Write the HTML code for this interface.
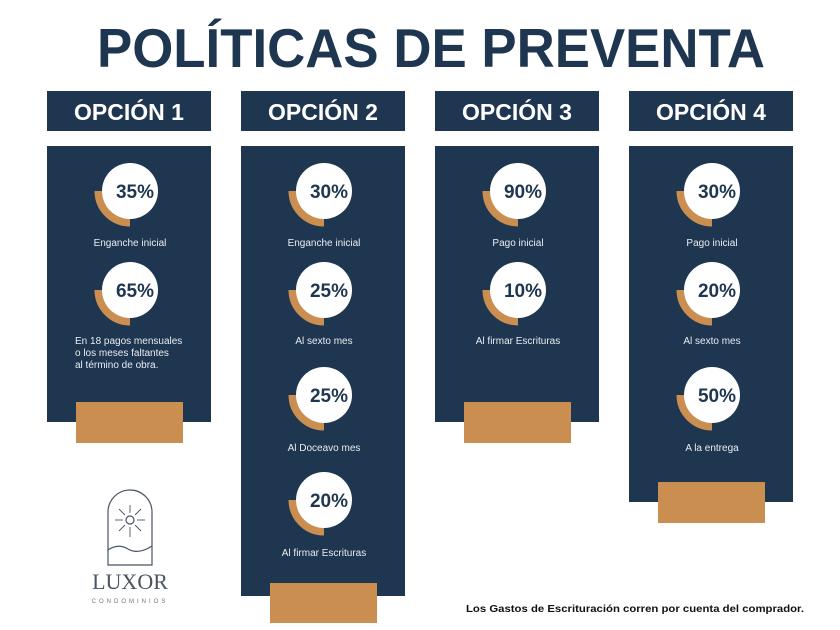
<!DOCTYPE html>
<html><head><meta charset="utf-8"><style>
html,body{margin:0;padding:0;background:#fff;}
svg{display:block}
</style></head><body>
<svg width="840" height="630" viewBox="0 0 840 630" xmlns="http://www.w3.org/2000/svg" font-family="Liberation Sans, sans-serif">
<defs>
<g id="c">
<path d="M -31 0 A 31 31 0 0 0 0 31" fill="none" stroke="#c98e50" stroke-width="9"/>
<circle cx="0" cy="0" r="28" fill="#fff"/>
</g>
</defs>
<rect width="840" height="630" fill="#fff"/>
<text x="431" y="67" text-anchor="middle" font-size="55" font-weight="bold" fill="#1f3650" textLength="668" lengthAdjust="spacingAndGlyphs">POLÍTICAS DE PREVENTA</text>

<g fill="#1f3650">
<rect x="47" y="91" width="164" height="40"/>
<rect x="241" y="91" width="164" height="40"/>
<rect x="435" y="91" width="164" height="40"/>
<rect x="629" y="91" width="164" height="40"/>
<rect x="47" y="146" width="164" height="276"/>
<rect x="241" y="146" width="164" height="450"/>
<rect x="435" y="146" width="164" height="276"/>
<rect x="629" y="146" width="164" height="356"/>
</g>
<g fill="#c98e50">
<rect x="76" y="402" width="107" height="41"/>
<rect x="270" y="583" width="107" height="40"/>
<rect x="464" y="402" width="107" height="41"/>
<rect x="658" y="482" width="107" height="41"/>
</g>
<g fill="#fff" font-size="23" font-weight="bold" text-anchor="middle">
<text x="129" y="120">OPCIÓN 1</text>
<text x="323" y="120">OPCIÓN 2</text>
<text x="517" y="120">OPCIÓN 3</text>
<text x="711" y="120">OPCIÓN 4</text>
</g>

<use href="#c" x="130" y="191"/><use href="#c" x="130" y="290"/>
<use href="#c" x="324" y="191"/><use href="#c" x="324" y="290"/><use href="#c" x="324" y="395"/><use href="#c" x="324" y="500"/>
<use href="#c" x="518" y="191"/><use href="#c" x="518" y="290"/>
<use href="#c" x="712" y="191"/><use href="#c" x="712" y="290"/><use href="#c" x="712" y="395"/>

<g fill="#1f3650" font-size="19" font-weight="bold" text-anchor="middle">
<text x="135" y="198">35%</text><text x="135" y="297">65%</text>
<text x="329" y="198">30%</text><text x="329" y="297">25%</text><text x="329" y="402">25%</text><text x="329" y="507">20%</text>
<text x="523" y="198">90%</text><text x="523" y="297">10%</text>
<text x="717" y="198">30%</text><text x="717" y="297">20%</text><text x="717" y="402">50%</text>
</g>

<g fill="#e8edf2" font-size="10" text-anchor="middle">
<text x="130" y="246">Enganche inicial</text>
<text x="324" y="246">Enganche inicial</text>
<text x="324" y="344">Al sexto mes</text>
<text x="324" y="451">Al Doceavo mes</text>
<text x="324" y="556">Al firmar Escrituras</text>
<text x="518" y="246">Pago inicial</text>
<text x="518" y="344">Al firmar Escrituras</text>
<text x="712" y="246">Pago inicial</text>
<text x="712" y="344">Al sexto mes</text>
<text x="712" y="451">A la entrega</text>
</g>
<g fill="#e8edf2" font-size="10">
<text x="75" y="344">En 18 pagos mensuales</text>
<text x="75" y="356">o los meses faltantes</text>
<text x="75" y="368">al término de obra.</text>
</g>

<text x="466" y="612" font-size="10.5" font-weight="bold" fill="#111" textLength="338" lengthAdjust="spacingAndGlyphs">Los Gastos de Escrituración corren por cuenta del comprador.</text>

<g stroke="#4a5563" fill="none" stroke-width="1.2">
<path d="M108 565 L108 512 A22 22 0 0 1 152 512 L152 565 Z"/>
<circle cx="130" cy="520" r="4"/>
<g stroke-width="0.9">
<line x1="130" y1="505" x2="130" y2="513"/><line x1="130" y1="527" x2="130" y2="537"/>
<line x1="115" y1="520" x2="123" y2="520"/><line x1="137" y1="520" x2="145" y2="520"/>
<line x1="119" y1="509" x2="125" y2="515"/><line x1="135" y1="525" x2="141" y2="531"/>
<line x1="141" y1="509" x2="135" y2="515"/><line x1="125" y1="525" x2="119" y2="531"/>
</g>
<path d="M108 550 Q118 543 128 549 Q138 555 152 546"/>
</g>
<text x="130" y="589" text-anchor="middle" font-family="Liberation Serif, serif" font-size="22" fill="#4a5563">LUXOR</text>
<text x="130" y="603" text-anchor="middle" font-size="6" letter-spacing="3" fill="#6b7480">CONDOMINIOS</text>
</svg>
</body></html>
